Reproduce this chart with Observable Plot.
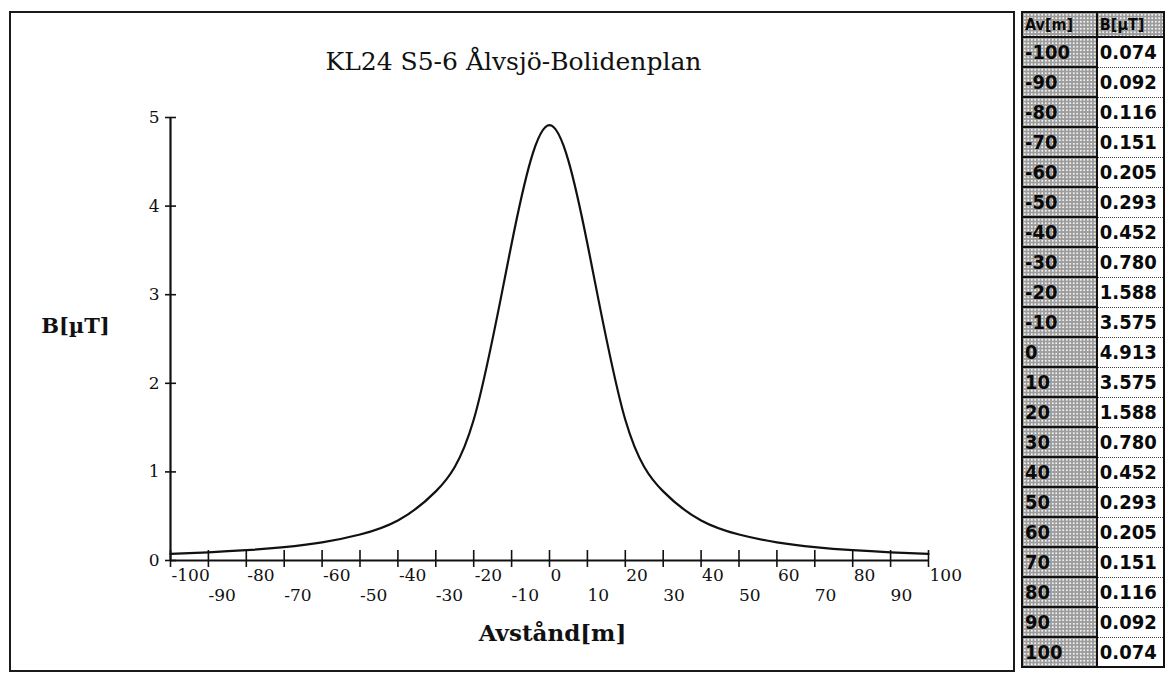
<!DOCTYPE html>
<html>
<head>
<meta charset="utf-8">
<script src="https://cdn.jsdelivr.net/npm/d3@7"></script>
<script src="https://cdn.jsdelivr.net/npm/@observablehq/plot@0.6"></script>
<style>
  html, body { margin: 0; padding: 0; background: #fff; }
  #page { position: relative; width: 1165px; height: 675px; overflow: hidden; background: #fff; }
  #chart { position: absolute; left: 10px; top: 12px; width: 1005px; height: 660px; }
  #frame { position: absolute; left: 9px; top: 11px; width: 1006px; height: 661px; border: 2px solid #1a1a1a; box-sizing: border-box; pointer-events: none; }
  #tbl { position: absolute; left: 1021px; top: 11px; border-collapse: collapse; border: 2px solid #111;
         font-family: "DejaVu Sans Condensed", "Liberation Sans Narrow", "DejaVu Sans", sans-serif; font-weight: bold; color: #0a0a0a; }
  #tbl td, #tbl th { padding: 0 0 0 2px; text-align: left; white-space: nowrap; }
  #tbl th { height: 23px; font-size: 16px; border-bottom: 2px solid #111; }
  #tbl td { height: 28px; font-size: 20px; }
  .stip { background-color: #9c9c9c; background-image: radial-gradient(circle, #f4f4f4 1px, transparent 1.3px); background-size: 3.5px 3.5px; }
  .c1 { width: 74px; border-right: 2px solid #111; }
  .c2 { width: 64px; background: #fff; }
  #tbl td.c1 { border-bottom: 2px solid #111; }
  #tbl td.c2 { border-bottom: 1px dotted #444; }
</style>
</head>
<body>
<div id="page">
  <div id="chart"></div>
  <div id="frame"></div>
  <table id="tbl"></table>
</div>
<script>
const chartTitle = "KL24 S5-6 Ålvsjö-Bolidenplan";
const xTitle = "Avstånd[m]";
const yTitle = "B[µT]";
const tableHeaders = ["Av[m]", "B[µT]"];
const distance = [-100, -90, -80, -70, -60, -50, -40, -30, -20, -10, 0, 10, 20, 30, 40, 50, 60, 70, 80, 90, 100];
const field = [0.074, 0.092, 0.116, 0.151, 0.205, 0.293, 0.452, 0.780, 1.588, 3.575, 4.913, 3.575, 1.588, 0.780, 0.452, 0.293, 0.205, 0.151, 0.116, 0.092, 0.074];
const xTicks = [-100, -90, -80, -70, -60, -50, -40, -30, -20, -10, 0, 10, 20, 30, 40, 50, 60, 70, 80, 90, 100];
const xLabelsUpper = [-100, -80, -60, -40, -20, 0, 20, 40, 60, 80, 100];
const xLabelsLower = [-90, -70, -50, -30, -10, 10, 30, 50, 70, 90];
const yTicks = [0, 1, 2, 3, 4, 5];

const data = distance.map((d, i) => ({distance: d, field: field[i]}));

const plot = Plot.plot({
  width: 1005,
  height: 660,
  marginLeft: 160,
  marginRight: 87,
  marginTop: 105,
  marginBottom: 112,
  style: {fontFamily: "'DejaVu Serif', 'Liberation Serif', serif", fontSize: "17px", color: "#111", background: "transparent"},
  x: {domain: [-100, 100]},
  y: {domain: [0, 5]},
  marks: [
    Plot.axisX(xTicks, {tickSize: 17, dy: -10, tickFormat: () => "", strokeWidth: 1.6, label: null}),
    Plot.axisX(xLabelsUpper, {tickSize: 0, tickPadding: 8, textAnchor: "start", dx: 1, fontSize: 17, tickFormat: d => String(d), label: null}),
    Plot.axisX(xLabelsLower, {tickSize: 0, tickPadding: 28, textAnchor: "start", dx: 0, fontSize: 17, tickFormat: d => String(d), label: null}),
    Plot.axisY(yTicks, {tickSize: 11, dx: 6, tickPadding: 6, fontSize: 17, tickFormat: d => String(d), strokeWidth: 1.6, label: null}),
    Plot.ruleY([0], {stroke: "#111", strokeWidth: 2.2}),
    Plot.ruleX([-100], {stroke: "#111", strokeWidth: 2.2}),
    Plot.line(data, {x: "distance", y: "field", curve: "natural", stroke: "#111", strokeWidth: 2.2}),
    Plot.text([chartTitle], {frameAnchor: "top", dx: -36, dy: -65, fontSize: 25, text: d => d, fill: "#111"}),
    Plot.text([xTitle], {frameAnchor: "bottom", dx: 3, dy: 80, fontSize: 23, fontWeight: "bold", text: d => d, fill: "#111"}),
    Plot.text([yTitle], {frameAnchor: "left", textAnchor: "middle", dx: -95, dy: -13, fontSize: 21, fontWeight: "bold", text: d => d, fill: "#111"})
  ]
});
document.getElementById("chart").appendChild(plot);

// side table built from the same arrays
const tbl = document.getElementById("tbl");
const hr = document.createElement("tr");
tableHeaders.forEach((h, i) => {
  const th = document.createElement("th");
  th.textContent = h;
  th.className = "stip " + (i === 0 ? "c1" : "c2");
  hr.appendChild(th);
});
tbl.appendChild(hr);
distance.forEach((d, i) => {
  const tr = document.createElement("tr");
  const a = document.createElement("td");
  a.className = "c1 stip";
  a.textContent = String(d);
  const b = document.createElement("td");
  b.className = "c2";
  b.textContent = field[i].toFixed(3);
  if (i === distance.length - 1) { a.style.borderBottom = "none"; b.style.borderBottom = "none"; }
  tr.appendChild(a); tr.appendChild(b);
  tbl.appendChild(tr);
});
tbl.querySelectorAll("th.c2").forEach(th => { th.style.backgroundColor = "#9c9c9c"; th.style.backgroundImage = "radial-gradient(circle, #f4f4f4 1px, transparent 1.3px)"; th.style.backgroundSize = "3.5px 3.5px"; });
</script>
</body>
</html>
